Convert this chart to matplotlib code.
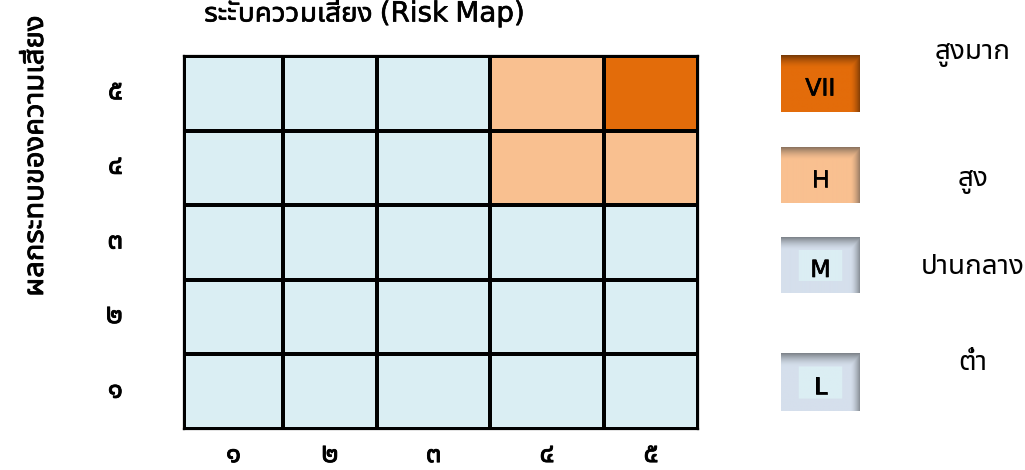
import numpy as np
import matplotlib
matplotlib.use("Agg")
import matplotlib.pyplot as plt
import matplotlib.patheffects as pe
import matplotlib.transforms as mtransforms
from matplotlib import font_manager as fm
from matplotlib.colors import ListedColormap, BoundaryNorm, to_rgb

# ---------------- data ----------------
likelihood_labels = ['๑', '๒', '๓', '๔', '๕']
impact_labels = ['๑', '๒', '๓', '๔', '๕']
# risk level per cell: rows = impact 1..5 (bottom->top), cols = likelihood 1..5
# 0 = L, 1 = M, 2 = H, 3 = VH
risk_levels = [
    [0, 0, 0, 0, 0],
    [0, 0, 0, 0, 0],
    [0, 0, 0, 0, 0],
    [0, 0, 0, 2, 2],
    [0, 0, 0, 2, 3],
]
level_codes = ['L', 'M', 'H', 'VII']
level_names = ['ต่ำ', 'ปานกลาง', 'สูง', 'สูงมาก']
level_colors = ['#DAEEF3', '#DAEEF3', '#F9C090', '#E36C0A']
title = 'ระดับความเสี่ยง (Risk Map)'
ylabel = 'ผลกระทบของความเสี่ยง'

# ---------------- font ----------------
def find_thai_fonts():
    try:
        from fontTools.ttLib import TTFont
    except Exception:
        return []
    found = []
    for f in fm.fontManager.ttflist:
        try:
            tt = TTFont(f.fname, fontNumber=0, lazy=True)
            cmap = tt.getBestCmap()
            if cmap and 0x0E2A in cmap and 0x0E51 in cmap:
                found.append(f.name)
        except Exception:
            pass
    return sorted(set(found))

thai = find_thai_fonts()
pref = ['Leelawadee UI', 'Tahoma', 'Noto Sans Thai UI', 'Noto Sans Thai', 'Loma',
        'Garuda', 'Sarabun', 'Noto Looped Thai', 'Kinnari']
chosen = None
for p in pref:
    if p in thai:
        chosen = p
        break
if chosen is None and thai:
    chosen = thai[0]
fams = ([chosen] if chosen else []) + ['DejaVu Sans']
plt.rcParams['font.family'] = fams

def bold_fx(w):
    return [pe.withStroke(linewidth=w, foreground='black')]

# ---------------- layout ----------------
W, H = 1025, 470
fig = plt.figure(figsize=(W / 100, H / 100), dpi=100)
col_widths = [99, 94, 113, 114, 94]
grid_left, grid_top, grid_bottom = 184, 56, 429
grid_w = sum(col_widths)
ax = fig.add_axes([grid_left / W, 1 - grid_bottom / H, grid_w / W,
                   (grid_bottom - grid_top) / H])
xedges = np.concatenate([[0], np.cumsum(col_widths)])
yedges = np.arange(len(impact_labels) + 1)
cmap = ListedColormap(level_colors)
norm = BoundaryNorm(np.arange(len(level_colors) + 1) - 0.5, len(level_colors))
ax.pcolormesh(xedges, yedges, np.array(risk_levels), cmap=cmap, norm=norm,
              edgecolors='black', linewidth=1.6)
ax.set_xlim(xedges[0], xedges[-1])
ax.set_ylim(0, len(impact_labels))
xc = (xedges[:-1] + xedges[1:]) / 2
yc = (yedges[:-1] + yedges[1:]) / 2
ax.set_xticks(xc, likelihood_labels)
ax.set_yticks(yc, impact_labels)
ax.tick_params(axis='x', length=0, pad=8, labelsize=20)
ax.tick_params(axis='y', length=0, pad=44, labelsize=20)
up = mtransforms.ScaledTranslation(0, 5 / 100, fig.dpi_scale_trans)
for lab in ax.get_yticklabels():
    lab.set_transform(lab.get_transform() + up)
for lab in ax.get_xticklabels() + ax.get_yticklabels():
    lab.set_path_effects(bold_fx(0.6))
for s in ax.spines.values():
    s.set_linewidth(1.6)
    s.set_color('black')

fig.text(366 / W, 1 - 13 / H, title, ha='center', va='center', fontsize=20,
         path_effects=bold_fx(0.45))
fig.text(35 / W, 1 - 156 / H, ylabel, ha='center', va='center', rotation=90,
         fontsize=21, path_effects=bold_fx(0.6))

# ---------------- legend ----------------
lax = fig.add_axes([0, 0, 1, 1])
lax.set_xlim(0, W)
lax.set_ylim(H, 0)
lax.axis('off')

def bevel(base, edge, inner=None, w=80, h=56):
    base = np.array(to_rgb(base))
    edge = np.array(to_rgb(edge))
    img = np.ones((h, w, 3)) * base
    if inner is not None:
        iy0, iy1, ix0, ix1 = int(h * 0.24), int(h * 0.80), int(w * 0.23), int(w * 0.78)
        img[iy0:iy1, ix0:ix1] = np.array(to_rgb(inner))
    yy = np.arange(h)[:, None] / h
    xx = np.arange(w)[None, :] / w
    top = np.clip(1 - yy / 0.22, 0, 1) ** 1.6
    right = np.clip(1 - (1 - xx) / 0.13, 0, 1) ** 1.6
    a = np.maximum(top, right)[..., None]
    return img * (1 - a) + edge * a

box_x0, box_x1 = 781, 860
box_specs = [  # (level index, top, bottom, label y, edge colour, inner colour)
    (3, 55, 112, 53, '#7A3A06', None),
    (2, 147, 203, 180, '#8E7560', None),
    (1, 237, 293, 266, '#7F858C', '#DBEEF3'),
    (0, 353, 411, 362, '#7F858C', '#DBEEF3'),
]
base_cols = {3: '#E36C0A', 2: '#F9C090', 1: '#D5DFEC', 0: '#D5DFEC'}
for lvl, t, b, ty, ec, ic in box_specs:
    img = bevel(base_cols[lvl], ec, ic)
    lax.imshow(img, extent=(box_x0, box_x1, b, t), aspect='auto',
               interpolation='bilinear')
    lax.text((box_x0 + box_x1) / 2, (t + b) / 2 + 5, level_codes[lvl],
             ha='center', va='center', fontsize=17, color='black',
             family='DejaVu Sans', path_effects=bold_fx(0.5))
    lax.text(973, ty, level_names[lvl], ha='center', va='center', fontsize=20,
             color='black')
lax.set_xlim(0, W)
lax.set_ylim(H, 0)

fig.savefig('out.png', dpi=100)
